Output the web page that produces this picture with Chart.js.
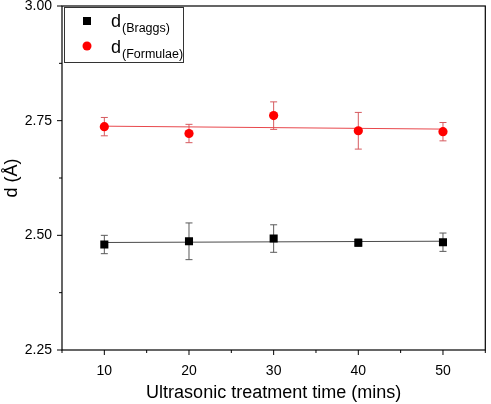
<!DOCTYPE html>
<html>
<head>
<meta charset="utf-8">
<script src="https://cdn.jsdelivr.net/npm/chart.js@4.4.0/dist/chart.umd.min.js"></script>
<style>
  html, body { margin: 0; padding: 0; background: #fff; }
</style>
</head>
<body>
<canvas id="chart" width="491" height="404"></canvas>
<script>
// Datos
const times = [10, 20, 30, 40, 50];
const dBraggs = [2.480, 2.487, 2.493, 2.484, 2.485];
const errBraggs = [0.020, 0.040, 0.030, 0.008, 0.020];
const dFormulae = [2.737, 2.722, 2.761, 2.728, 2.726];
const errFormulae = [0.020, 0.020, 0.030, 0.040, 0.020];
const xTicks = [10, 20, 30, 40, 50];
const yTicks = [2.25, 2.50, 2.75, 3.00];

const FONT = '"Liberation Sans", Arial, sans-serif';

// ajuste lineal simple
function linFit(xs, ys) {
    const n = xs.length;
    const mx = xs.reduce((a, b) => a + b, 0) / n;
    const my = ys.reduce((a, b) => a + b, 0) / n;
    let sxy = 0, sxx = 0;
    xs.forEach((x, i) => { sxy += (x - mx) * (ys[i] - my); sxx += (x - mx) * (x - mx); });
    const m = sxy / sxx;
    const x0 = xs[0], x1 = xs[n - 1];
    return [{ x: x0, y: my + m * (x0 - mx) }, { x: x1, y: my + m * (x1 - mx) }];
}

const pts = (ys) => times.map((t, i) => ({ x: t, y: ys[i] }));

const errorBars = [
    { values: dBraggs, errs: errBraggs, color: '#5a5a5a' },
    { values: dFormulae, errs: errFormulae, color: '#d65a5f' }
];

const isOn = (v, list) => list.some(t => Math.abs(t - v) < 1e-6);

const extras = {
    id: 'extras',
    beforeDatasetsDraw(chart) {
        const { ctx, scales: { x, y } } = chart;
        ctx.save();
        ctx.lineWidth = 1;
        errorBars.forEach(s => {
            ctx.strokeStyle = s.color;
            times.forEach((t, i) => {
                const px = x.getPixelForValue(t);
                const top = y.getPixelForValue(s.values[i] + s.errs[i]);
                const bot = y.getPixelForValue(s.values[i] - s.errs[i]);
                ctx.beginPath();
                ctx.moveTo(px, top); ctx.lineTo(px, bot);
                ctx.moveTo(px - 3.5, top); ctx.lineTo(px + 3.5, top);
                ctx.moveTo(px - 3.5, bot); ctx.lineTo(px + 3.5, bot);
                ctx.stroke();
            });
        });
        ctx.restore();
    },
    afterDraw(chart) {
        const { ctx, chartArea: a, scales: { x, y } } = chart;
        ctx.save();
        // marco
        ctx.strokeStyle = '#000';
        ctx.lineWidth = 1.2;
        ctx.strokeRect(a.left, a.top, a.right - a.left, a.bottom - a.top);
        // marcas de los ejes
        ctx.lineWidth = 1;
        ctx.beginPath();
        x.ticks.forEach(tk => {
            const px = x.getPixelForValue(tk.value);
            const len = isOn(tk.value, xTicks) ? 5 : 3;
            ctx.moveTo(px, a.bottom); ctx.lineTo(px, a.bottom + len);
        });
        y.ticks.forEach(tk => {
            const py = y.getPixelForValue(tk.value);
            const len = isOn(tk.value, yTicks) ? 5 : 3;
            ctx.moveTo(a.left, py); ctx.lineTo(a.left - len, py);
        });
        ctx.stroke();

        // leyenda
        ctx.strokeStyle = '#333';
        ctx.lineWidth = 1;
        ctx.strokeRect(64.5, 7.5, 119, 55);
        ctx.fillStyle = '#000';
        ctx.fillRect(83, 17, 8, 8);
        ctx.fillStyle = '#ff0000';
        ctx.beginPath();
        ctx.arc(87, 46, 4.5, 0, Math.PI * 2);
        ctx.fill();
        ctx.fillStyle = '#000';
        ctx.textBaseline = 'alphabetic';
        ctx.font = '18px ' + FONT;
        ctx.fillText('d', 111, 27);
        ctx.fillText('d', 111, 53);
        ctx.font = '12.5px ' + FONT;
        ctx.fillText('(Braggs)', 122, 32);
        ctx.fillText('(Formulae)', 122, 58);
        ctx.restore();
    }
};

new Chart(document.getElementById('chart'), {
    type: 'scatter',
    data: {
        datasets: [
            {
                label: 'fit Braggs',
                type: 'line',
                data: linFit(times, dBraggs),
                borderColor: '#4a4a4a',
                borderWidth: 1,
                pointRadius: 0,
                order: 3
            },
            {
                label: 'fit Formulae',
                type: 'line',
                data: linFit(times, dFormulae),
                borderColor: '#e8474c',
                borderWidth: 1,
                pointRadius: 0,
                order: 3
            },
            {
                label: 'd(Braggs)',
                data: pts(dBraggs),
                pointStyle: 'rect',
                pointRadius: 5.7,
                backgroundColor: '#000',
                borderColor: '#000',
                borderWidth: 0,
                order: 1
            },
            {
                label: 'd(Formulae)',
                data: pts(dFormulae),
                pointStyle: 'circle',
                pointRadius: 4.6,
                backgroundColor: '#ff0000',
                borderColor: '#ff0000',
                borderWidth: 0,
                order: 1
            }
        ]
    },
    options: {
        responsive: false,
        animation: false,
        events: [],
        layout: { padding: { top: 6, right: 2, left: 0, bottom: 0 } },
        plugins: {
            legend: { display: false },
            tooltip: { enabled: false }
        },
        scales: {
            x: {
                type: 'linear',
                min: 5,
                max: 55,
                grid: { display: false, drawTicks: false },
                border: { display: false },
                ticks: {
                    stepSize: 5,
                    autoSkip: false,
                    maxRotation: 0,
                    padding: 13,
                    color: '#000',
                    font: { family: FONT, size: 14 },
                    callback: v => isOn(v, xTicks) ? String(v) : ''
                },
                title: {
                    display: true,
                    text: 'Ultrasonic treatment time (mins)',
                    color: '#000',
                    font: { family: FONT, size: 18 },
                    padding: { top: 0, bottom: 0 }
                },
                afterFit: s => {
                    s.height = 54;
                    s.paddingLeft = 0;
                    s.paddingRight = 0;
                }
            },
            y: {
                min: 2.25,
                max: 3.0,
                grid: { display: false, drawTicks: false },
                border: { display: false },
                ticks: {
                    stepSize: 0.125,
                    autoSkip: false,
                    padding: 10,
                    color: '#000',
                    font: { family: FONT, size: 14 },
                    callback: v => isOn(v, yTicks) ? v.toFixed(2) : ''
                },
                title: {
                    display: true,
                    text: 'd (Å)',
                    color: '#000',
                    font: { family: FONT, size: 18 },
                    padding: { top: 1, bottom: 0 }
                },
                afterFit: s => {
                    s.width = 62;
                    s.paddingTop = 0;
                    s.paddingBottom = 0;
                }
            }
        }
    },
    plugins: [extras]
});
</script>
</body>
</html>
